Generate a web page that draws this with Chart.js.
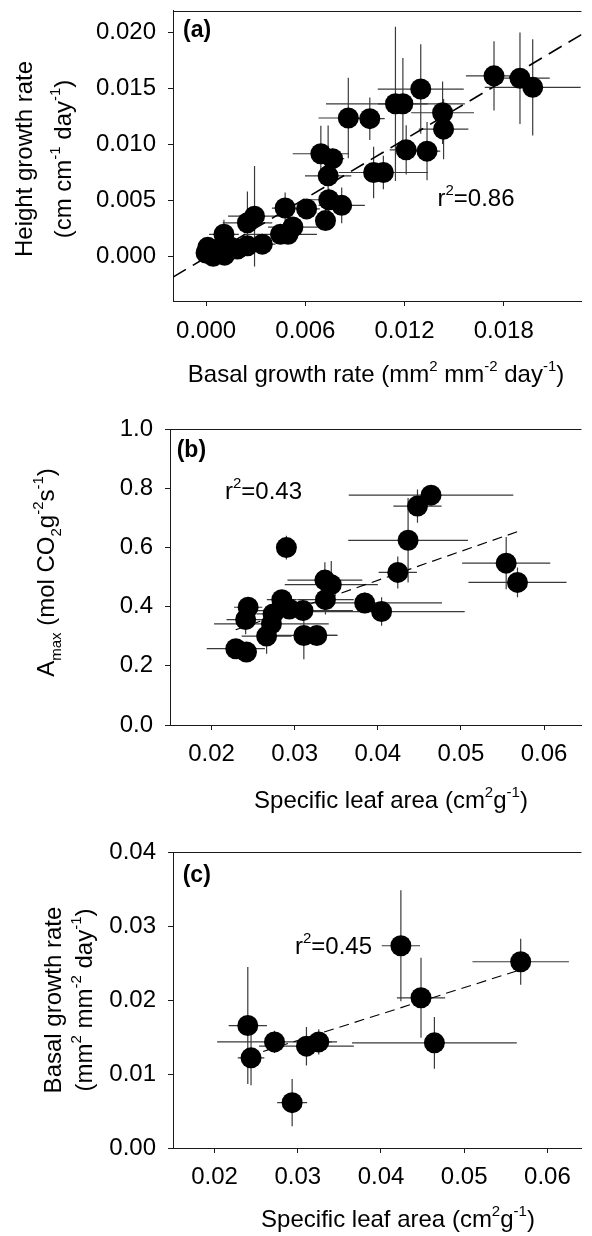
<!DOCTYPE html>
<html><head><meta charset="utf-8">
<script src="https://cdn.jsdelivr.net/npm/chart.js@4.4.1/dist/chart.umd.min.js"></script>
<style>
html,body{margin:0;padding:0;background:#fff;overflow:hidden;}
#wrap{position:relative;width:592px;height:1236px;background:#fff;}
canvas{position:absolute;left:0;}
</style></head><body>
<div id="wrap">
<canvas id="ca" width="592" height="400" style="top:0px"></canvas>
<canvas id="cb" width="592" height="420" style="top:400px"></canvas>
<canvas id="cc" width="592" height="416" style="top:820px"></canvas>
</div>
<script>
// ---------------- Panel (a): height vs basal growth ----------------
const aX    = [0.01741,0.01898,0.01975,0.01298,0.01145,0.0119,0.0143,0.01436,0.0086,0.0099,0.0121,0.01336,0.00694,0.00765,0.00738,0.01013,0.01072,0.00742,0.0082,0.00722,0.00608,0.00478,0.00525,0.00496,0.0045,0.00293,0.0025,0.0034,0.00108,0.0025,0.0019,0.0001,0.00043,0.00112,0.0,0.00073,0.0015];
const aY    = [0.01615,0.01594,0.01512,0.01497,0.01365,0.01365,0.01285,0.01138,0.01238,0.01232,0.00953,0.00941,0.00918,0.00874,0.0072,0.0075,0.0075,0.00506,0.00456,0.0032,0.00424,0.00432,0.00262,0.00197,0.00197,0.00359,0.003,0.00109,0.00197,0.00094,0.00065,0.0008,0.0,0.0001,0.0003,0.00065,0.0008];
const aXErr = [0.0017,0.0018,0.0029,0.0026,0.0042,0.0015,0.0019,0.0015,0.0018,0.0009,0.0010,0.0008,0.0017,0.0007,0.0014,0.0011,0.0027,0.0012,0.0014,0.0006,0.0008,0.0008,0.0015,0.0008,0.0022,0.0016,0.0015,0.0008,0.0009,0.0010,0.0010,0.0003,0.0003,0.0004,0.0003,0.0004,0.0005];
const aYErr = [0.0031,0.0041,0.0043,0.0040,0.0069,0.0041,0.0028,0.0027,0.0036,0.0019,0.0022,0.0026,0.0025,0.0009,0.0045,0.0023,0.0015,0.0010,0.0016,0.0008,0.0006,0.0014,0.0007,0.0006,0.0005,0.0045,0.0028,0.0005,0.0013,0.0006,0.0004,0.0004,0.0003,0.0003,0.0003,0.0004,0.0004];
const aRegX = [-0.002, 0.0227];
const aRegY = [-0.00186, 0.01985];
const aXTicks = [0, 0.006, 0.012, 0.018];
const aXTickLabels = ['0.000','0.006','0.012','0.018'];
const aYTicks = [0, 0.005, 0.010, 0.015, 0.020];
const aYTickLabels = ['0.000','0.005','0.010','0.015','0.020'];

// ---------------- Panel (b): Amax vs SLA ----------------
const bX    = [0.0464,0.04477,0.04364,0.0424,0.05544,0.0568,0.029,0.03363,0.0344,0.0337,0.03842,0.04045,0.02845,0.02935,0.0310,0.0244,0.0241,0.0274,0.0272,0.02662,0.0311,0.03266,0.02292,0.0242];
const bY    = [0.7765,0.7395,0.624,0.5154,0.5468,0.4818,0.5994,0.4896,0.474,0.4235,0.4123,0.3832,0.4235,0.392,0.3866,0.3978,0.3563,0.3754,0.3417,0.3003,0.3025,0.3025,0.2577,0.2465];
const bXErr = [0.0099,0.0029,0.0072,0.0023,0.0053,0.0059,0.0003,0.0045,0.0056,0.0034,0.0093,0.0100,0.0018,0.0010,0.0060,0.0017,0.0023,0.0020,0.0069,0.0030,0.0040,0.0025,0.0035,0.0010];
const bYErr = [0.02,0.056,0.143,0.054,0.088,0.05,0.04,0.06,0.08,0.05,0.035,0.048,0.03,0.03,0.03,0.03,0.05,0.03,0.03,0.06,0.08,0.02,0.01,0.01];
const bRegX = [0.0229, 0.0568];
const bRegY = [0.322, 0.653];
const bXTicks = [0.02, 0.03, 0.04, 0.05, 0.06];
const bXTickLabels = ['0.02','0.03','0.04','0.05','0.06'];
const bYTicks = [0, 0.2, 0.4, 0.6, 0.8, 1.0];
const bYTickLabels = ['0.0','0.2','0.4','0.6','0.8','1.0'];

// ---------------- Panel (c): basal growth vs SLA ----------------
const cX    = [0.04239,0.05679,0.04481,0.04642,0.02399,0.02438,0.0272,0.03104,0.03252,0.02932];
const cY    = [0.02733,0.02517,0.0203,0.01421,0.01655,0.01218,0.01434,0.01376,0.01434,0.00613];
const cXErr = [0.0023,0.0058,0.0029,0.0099,0.0023,0.0016,0.0069,0.0057,0.0022,0.0018];
const cYErr = [0.0075,0.0031,0.0054,0.0035,0.0079,0.0037,0.0015,0.0026,0.0017,0.0032];
const cRegX = [0.0240, 0.0568];
const cRegY = [0.0124, 0.0241];
const cXTicks = [0.02, 0.03, 0.04, 0.05, 0.06];
const cXTickLabels = ['0.02','0.03','0.04','0.05','0.06'];
const cYTicks = [0, 0.01, 0.02, 0.03, 0.04];
const cYTickLabels = ['0.00','0.01','0.02','0.03','0.04'];

const FONT = '"Liberation Sans", Arial, Helvetica, sans-serif';
const AXIS = '#1a1a1a';

function drawRich(ctx, segs, x, y, rot, size, bold, align) {
  ctx.save();
  ctx.translate(x, y);
  if (rot) ctx.rotate(rot);
  const main = (bold ? 'bold ' : '') + size + 'px ' + FONT;
  const small = Math.round(size * 0.63) + 'px ' + FONT;
  let w = 0;
  for (const s of segs) { ctx.font = s.s ? small : main; w += ctx.measureText(s.t).width; }
  let cx = align === 'left' ? 0 : -w / 2;
  ctx.textBaseline = 'alphabetic';
  ctx.textAlign = 'left';
  ctx.fillStyle = '#000';
  const base = size * 0.358;
  for (const s of segs) {
    ctx.font = s.s ? small : main;
    let dy = 0;
    if (s.s === 'sup') dy = -size * 0.45;
    if (s.s === 'sub') dy = size * 0.3;
    ctx.fillText(s.t, cx, base + dy);
    cx += ctx.measureText(s.t).width;
  }
  ctx.restore();
}

function makeChart(id, cfg) {
  const pts = cfg.x.map((v, i) => ({ x: v, y: cfg.y[i] }));
  const reg = cfg.regX.map((v, i) => ({ x: v, y: cfg.regY[i] }));
  const deco = {
    id: 'deco',
    beforeDatasetsDraw(chart) {
      const { ctx, chartArea: a, scales: { x, y } } = chart;
      ctx.save();
      ctx.beginPath(); ctx.rect(a.left, a.top, a.right - a.left, a.bottom - a.top); ctx.clip();
      ctx.strokeStyle = '#3a3a3a'; ctx.lineWidth = 1.2;
      cfg.x.forEach((v, i) => {
        const yv = cfg.y[i];
        const px = x.getPixelForValue(v), py = y.getPixelForValue(yv);
        ctx.beginPath();
        ctx.moveTo(x.getPixelForValue(v - cfg.xe[i]), py);
        ctx.lineTo(x.getPixelForValue(v + cfg.xe[i]), py);
        ctx.moveTo(px, y.getPixelForValue(yv - cfg.ye[i]));
        ctx.lineTo(px, y.getPixelForValue(yv + cfg.ye[i]));
        ctx.stroke();
      });
      ctx.restore();
    },
    afterDraw(chart) {
      const { ctx, chartArea: a } = chart;
      ctx.save();
      ctx.strokeStyle = AXIS; ctx.lineWidth = 1;
      ctx.beginPath(); ctx.moveTo(a.left, Math.round(a.top) + 0.5); ctx.lineTo(a.right, Math.round(a.top) + 0.5); ctx.stroke();
      ctx.restore();
      cfg.texts.forEach(t => drawRich(ctx, t.segs, t.x, t.y, t.rot, t.size, t.bold, t.align));
    }
  };
  return new Chart(document.getElementById(id), {
    type: 'scatter',
    data: {
      datasets: [
        { data: pts, pointRadius: 10.5, pointHoverRadius: 10.5, backgroundColor: '#000', borderWidth: 0, order: 1 },
        { data: reg, showLine: true, pointRadius: 0, borderColor: '#000', borderWidth: cfg.regW, borderDash: cfg.dash, order: 2, fill: false }
      ]
    },
    options: {
      responsive: false, animation: false, events: [],
      layout: { padding: { left: 0, right: 0, top: cfg.top, bottom: 0 } },
      plugins: { legend: { display: false }, tooltip: { enabled: false } },
      scales: {
        x: {
          type: 'linear', min: cfg.xMin, max: cfg.xMax,
          afterBuildTicks: s => { s.ticks = cfg.xTicks.map(v => ({ value: v })); },
          afterFit: s => { s.height = cfg.xH; s.paddingLeft = 0; s.paddingRight = 0; },
          ticks: { font: { family: FONT, size: 24 }, color: '#000', padding: cfg.xPad, maxRotation: 0, autoSkip: false,
                   callback: (v, i) => cfg.xTickLabels[i] },
          grid: { drawOnChartArea: false, drawTicks: true, tickLength: 5, color: AXIS, tickColor: AXIS, tickWidth: 1 },
          border: { display: true, color: AXIS, width: 1 }
        },
        y: {
          type: 'linear', min: cfg.yMin, max: cfg.yMax,
          afterBuildTicks: s => { s.ticks = cfg.yTicks.map(v => ({ value: v })); },
          afterFit: s => { s.width = cfg.left; s.paddingTop = 0; s.paddingBottom = 0; },
          ticks: { font: { family: FONT, size: 24 }, color: '#000', padding: 12, autoSkip: false,
                   callback: (v, i) => cfg.yTickLabels[i] },
          grid: { drawOnChartArea: false, drawTicks: true, tickLength: 5, color: AXIS, tickColor: AXIS, tickWidth: 1 },
          border: { display: true, color: AXIS, width: 1 }
        }
      }
    },
    plugins: [deco]
  });
}

const R = -Math.PI / 2;

makeChart('ca', {
  x: aX, y: aY, xe: aXErr, ye: aYErr, regX: aRegX, regY: aRegY, regW: 1.6, dash: [15, 8],
  xMin: -0.002, xMax: 0.0227, yMin: -0.004, yMax: 0.022,
  xTicks: aXTicks, xTickLabels: aXTickLabels, yTicks: aYTicks, yTickLabels: aYTickLabels,
  top: 7, left: 173, xH: 99, xPad: 11,
  texts: [
    { segs: [{ t: '(a)' }], x: 183, y: 28.7, size: 23, bold: true, align: 'left' },
    { segs: [{ t: 'r' }, { t: '2', s: 'sup' }, { t: '=0.86' }], x: 437.5, y: 197.5, size: 24, align: 'left' },
    { segs: [{ t: 'Basal growth rate (mm' }, { t: '2', s: 'sup' }, { t: ' mm' }, { t: '-2', s: 'sup' }, { t: ' day' }, { t: '-1', s: 'sup' }, { t: ')' }], x: 376, y: 373, size: 24 },
    { segs: [{ t: 'Height growth rate' }], x: 23.5, y: 159, rot: R, size: 24 },
    { segs: [{ t: '(cm cm' }, { t: '-1', s: 'sup' }, { t: ' day' }, { t: '-1', s: 'sup' }, { t: ')' }], x: 62, y: 159, rot: R, size: 24 }
  ]
});

makeChart('cb', {
  x: bX, y: bY, xe: bXErr, ye: bYErr, regX: bRegX, regY: bRegY, regW: 1.1, dash: [10, 6],
  xMin: 0.015, xMax: 0.0645, yMin: 0, yMax: 1.0,
  xTicks: bXTicks, xTickLabels: bXTickLabels, yTicks: bYTicks, yTickLabels: bYTickLabels,
  top: 29, left: 170, xH: 95, xPad: 10,
  texts: [
    { segs: [{ t: '(b)' }], x: 176.7, y: 48.7, size: 23, bold: true, align: 'left' },
    { segs: [{ t: 'r' }, { t: '2', s: 'sup' }, { t: '=0.43' }], x: 225, y: 90.5, size: 24, align: 'left' },
    { segs: [{ t: 'Specific leaf area (cm' }, { t: '2', s: 'sup' }, { t: 'g' }, { t: '-1', s: 'sup' }, { t: ')' }], x: 391, y: 399.5, size: 24 },
    { segs: [{ t: 'A' }, { t: 'max', s: 'sub' }, { t: ' (mol CO' }, { t: '2', s: 'sub' }, { t: 'g' }, { t: '-2', s: 'sup' }, { t: 's' }, { t: '-1', s: 'sup' }, { t: ')' }], x: 45, y: 172.5, rot: R, size: 24 }
  ]
});

makeChart('cc', {
  x: cX, y: cY, xe: cXErr, ye: cYErr, regX: cRegX, regY: cRegY, regW: 1.1, dash: [10, 6],
  xMin: 0.015, xMax: 0.0641, yMin: 0, yMax: 0.04,
  xTicks: cXTicks, xTickLabels: cXTickLabels, yTicks: cYTicks, yTickLabels: cYTickLabels,
  top: 32, left: 173, xH: 88, xPad: 10,
  texts: [
    { segs: [{ t: '(c)' }], x: 182.7, y: 53.7, size: 23, bold: true, align: 'left' },
    { segs: [{ t: 'r' }, { t: '2', s: 'sup' }, { t: '=0.45' }], x: 295, y: 125.5, size: 24, align: 'left' },
    { segs: [{ t: 'Specific leaf area (cm' }, { t: '2', s: 'sup' }, { t: 'g' }, { t: '-1', s: 'sup' }, { t: ')' }], x: 398, y: 398, size: 24 },
    { segs: [{ t: 'Basal growth rate' }], x: 52, y: 180, rot: R, size: 24 },
    { segs: [{ t: '(mm' }, { t: '2', s: 'sup' }, { t: ' mm' }, { t: '-2', s: 'sup' }, { t: ' day' }, { t: '-1', s: 'sup' }, { t: ')' }], x: 83, y: 180, rot: R, size: 24 }
  ]
});
</script>
</body></html>
